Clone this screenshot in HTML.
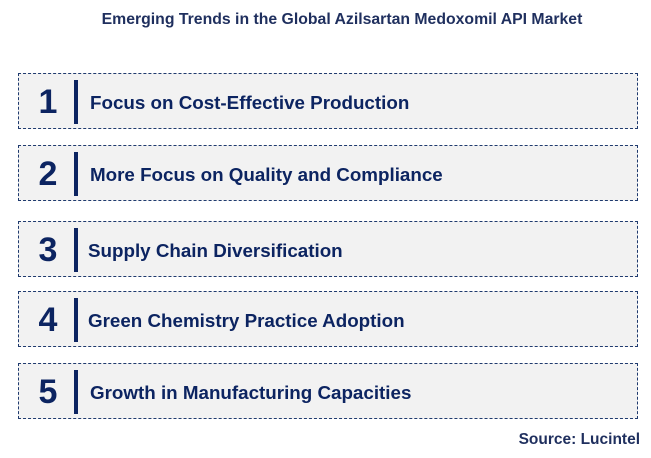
<!DOCTYPE html>
<html><head><style>
body{margin:0;width:651px;height:458px;background:#fff;font-family:"Liberation Sans",Arial,sans-serif;position:relative;overflow:hidden}
.t{position:absolute;top:11px;left:0;width:684px;text-align:center;font-size:15.8px;font-weight:bold;color:#1f2f5e}
.b{position:absolute;left:18px;width:620px;height:56px;background:#f2f2f2;border:1.3px dashed #1f3a6e;box-sizing:border-box}
.n{position:absolute;left:16px;width:26px;top:8px;text-align:center;font-size:34px;font-weight:bold;color:#0c2461;line-height:40px}
.bar{position:absolute;left:55px;top:6px;width:4px;height:44px;background:#0c2461}
.x{position:absolute;left:71px;top:1px;line-height:56px;font-size:18.8px;font-weight:bold;color:#0c2461}
.s{position:absolute;right:11px;top:431px;font-size:15.5px;font-weight:bold;color:#1f2f5e}
</style></head><body>
<div class="t">Emerging Trends in the Global Azilsartan Medoxomil API Market</div>
<div class="b" style="top:73px"><div class="n">1</div><div class="bar"></div><div class="x">Focus on Cost-Effective Production</div></div>
<div class="b" style="top:145px"><div class="n">2</div><div class="bar"></div><div class="x">More Focus on Quality and Compliance</div></div>
<div class="b" style="top:221px"><div class="n">3</div><div class="bar"></div><div class="x" style="left:69px">Supply Chain Diversification</div></div>
<div class="b" style="top:291px"><div class="n">4</div><div class="bar"></div><div class="x" style="left:69px">Green Chemistry Practice Adoption</div></div>
<div class="b" style="top:363px"><div class="n">5</div><div class="bar"></div><div class="x">Growth in Manufacturing Capacities</div></div>
<div class="s">Source: Lucintel</div>
</body></html>
